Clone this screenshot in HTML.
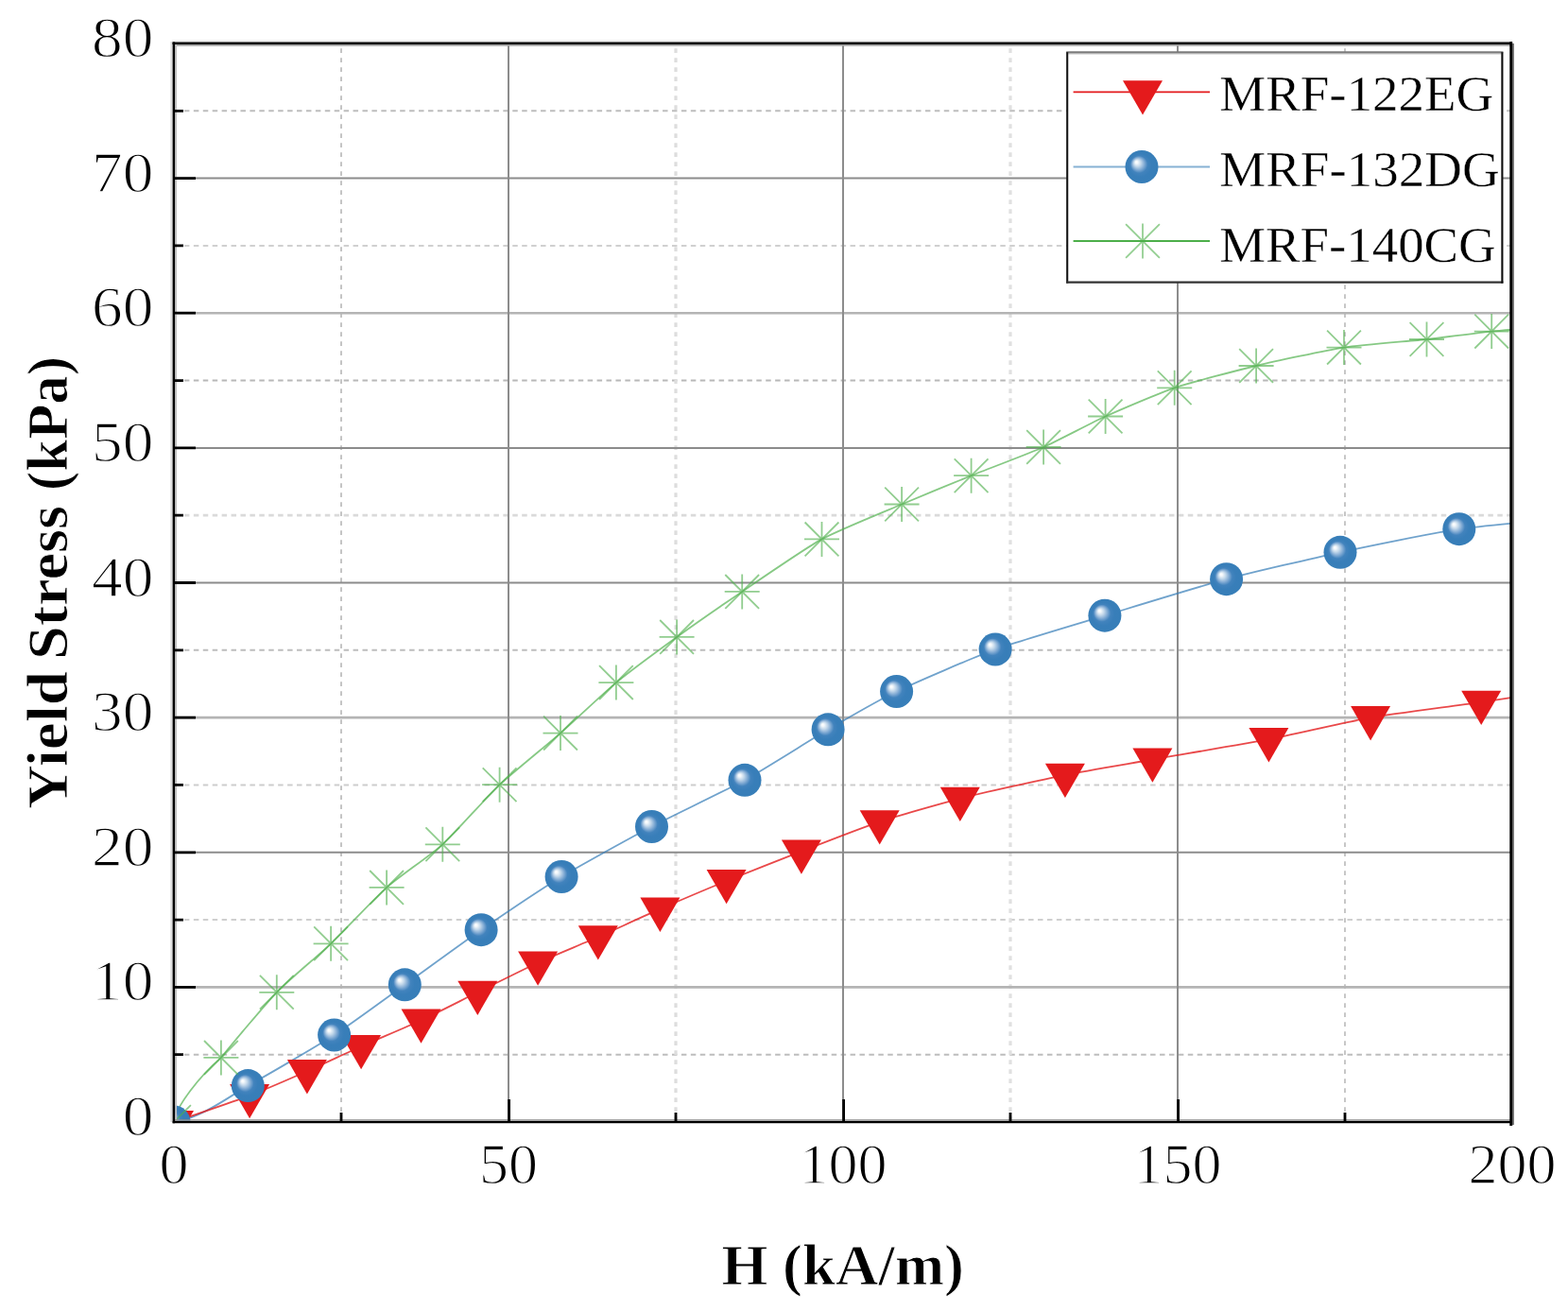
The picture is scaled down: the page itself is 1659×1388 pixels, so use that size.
<!DOCTYPE html>
<html><head><meta charset="utf-8"><title>Yield Stress vs H</title>
<style>html,body{margin:0;padding:0;background:#fff;}svg{display:block;}text{font-family:"Liberation Serif","DejaVu Serif",serif;}</style>
</head><body>
<svg width="1659" height="1388" viewBox="0 0 1659 1388">
<defs>
<radialGradient id="sph" cx="0.5" cy="0.5" r="0.5" fx="0.33" fy="0.35"><stop offset="0" stop-color="#ffffff"/><stop offset="0.08" stop-color="#f4f8fb"/><stop offset="0.22" stop-color="#c2d7ea"/><stop offset="0.38" stop-color="#7fa9d3"/><stop offset="0.52" stop-color="#4283bd"/><stop offset="0.7" stop-color="#387eb9"/><stop offset="1" stop-color="#377eb8"/></radialGradient>
<clipPath id="plot"><rect x="184.0" y="46.0" width="1416.0" height="1141.0"/></clipPath>
</defs>
<rect width="1659" height="1388" fill="#fff"/>
<line x1="184.0" y1="1115.7" x2="1600.0" y2="1115.7" stroke="#bdbdbd" stroke-width="2.0" stroke-dasharray="5.5 4.424" stroke-dashoffset="-1"/>
<line x1="184.0" y1="973.1" x2="1600.0" y2="973.1" stroke="#cfcfcf" stroke-width="2.0" stroke-dasharray="5.5 4.424" stroke-dashoffset="-1"/>
<line x1="184.0" y1="830.4" x2="1600.0" y2="830.4" stroke="#cdcdcd" stroke-width="2.0" stroke-dasharray="5.5 4.424" stroke-dashoffset="-1"/>
<line x1="184.0" y1="687.8" x2="1600.0" y2="687.8" stroke="#bdbdbd" stroke-width="2.0" stroke-dasharray="5.5 4.424" stroke-dashoffset="-1"/>
<line x1="184.0" y1="545.2" x2="1600.0" y2="545.2" stroke="#dadada" stroke-width="2.8" stroke-dasharray="5.5 4.424" stroke-dashoffset="-1"/>
<line x1="184.0" y1="402.6" x2="1600.0" y2="402.6" stroke="#b8b8b8" stroke-width="2.0" stroke-dasharray="5.5 4.424" stroke-dashoffset="-1"/>
<line x1="184.0" y1="259.9" x2="1600.0" y2="259.9" stroke="#d0d0d0" stroke-width="2.0" stroke-dasharray="5.5 4.424" stroke-dashoffset="-1"/>
<line x1="184.0" y1="117.3" x2="1600.0" y2="117.3" stroke="#bdbdbd" stroke-width="2.0" stroke-dasharray="5.5 4.424" stroke-dashoffset="-1"/>
<line x1="361.0" y1="46.0" x2="361.0" y2="1187.0" stroke="#c4c4c4" stroke-width="2.0" stroke-dasharray="4.6 5.4" stroke-dashoffset="-5.3"/>
<line x1="715.0" y1="46.0" x2="715.0" y2="1187.0" stroke="#dddddd" stroke-width="3.2" stroke-dasharray="4.6 5.4" stroke-dashoffset="-5.3"/>
<line x1="1069.0" y1="46.0" x2="1069.0" y2="1187.0" stroke="#e0e0e0" stroke-width="3.2" stroke-dasharray="4.6 5.4" stroke-dashoffset="-5.3"/>
<line x1="1423.0" y1="46.0" x2="1423.0" y2="1187.0" stroke="#b9b9b9" stroke-width="1.6" stroke-dasharray="4.6 5.4" stroke-dashoffset="-5.3"/>
<line x1="184.0" y1="1044.4" x2="1600.0" y2="1044.4" stroke="#b4b4b4" stroke-width="2.6"/>
<line x1="184.0" y1="901.8" x2="1600.0" y2="901.8" stroke="#8c8c8c" stroke-width="2.0"/>
<line x1="184.0" y1="759.1" x2="1600.0" y2="759.1" stroke="#b4b4b4" stroke-width="2.6"/>
<line x1="184.0" y1="616.5" x2="1600.0" y2="616.5" stroke="#8c8c8c" stroke-width="2.0"/>
<line x1="184.0" y1="473.9" x2="1600.0" y2="473.9" stroke="#8c8c8c" stroke-width="2.0"/>
<line x1="184.0" y1="331.2" x2="1600.0" y2="331.2" stroke="#b4b4b4" stroke-width="2.6"/>
<line x1="184.0" y1="188.6" x2="1600.0" y2="188.6" stroke="#8c8c8c" stroke-width="2.0"/>
<line x1="538.0" y1="46.0" x2="538.0" y2="1187.0" stroke="#8c8c8c" stroke-width="2"/>
<line x1="892.0" y1="46.0" x2="892.0" y2="1187.0" stroke="#8c8c8c" stroke-width="2"/>
<line x1="1246.0" y1="46.0" x2="1246.0" y2="1187.0" stroke="#8c8c8c" stroke-width="2"/>
<g clip-path="url(#plot)">
<path d="M184.0 1187.0 C186.0 1170.0 212.0 1138.0 233.9 1118.9 C244.8 1105.2 281.2 1061.9 292.8 1049.8 C304.4 1037.7 338.5 1009.4 350.1 998.3 C361.7 987.2 397.3 949.4 409.1 938.9 C420.9 928.4 456.4 904.2 468.3 893.3 C480.2 882.4 516.1 842.0 528.6 830.2 C541.1 818.4 580.7 786.4 593.0 775.6 C605.3 764.8 639.6 732.3 651.9 722.1 C664.2 711.9 702.8 683.5 716.1 673.9 C729.4 664.3 769.9 636.2 785.2 625.9 C800.5 615.5 852.6 579.6 869.5 570.4 C886.4 561.2 938.3 540.2 954.1 533.5 C969.9 526.8 1012.6 509.2 1027.6 503.2 C1042.6 497.1 1089.9 479.3 1104.1 473.0 C1118.3 466.7 1155.7 446.8 1169.6 440.5 C1183.5 434.2 1226.8 415.7 1242.7 410.3 C1258.7 404.9 1311.2 391.3 1329.1 387.0 C1347.0 382.7 1404.0 370.4 1422.0 367.6 C1440.0 364.8 1493.9 360.7 1509.5 359.0 C1525.1 357.3 1563.2 352.1 1578.2 350.6 C1593.2 349.1 1651.8 344.7 1660.0 344.0" fill="none" stroke="#4daf4a" stroke-width="1.8" stroke-opacity="0.68"/>
<path d="M184.0 1187.0 C212.0 1183.0 240.0 1162.0 262.3 1148.6 C279.3 1139.4 337.0 1105.7 353.6 1095.0 C370.2 1084.3 412.8 1052.9 428.3 1041.8 C443.9 1030.7 492.5 995.1 509.1 983.7 C525.7 972.3 576.1 938.4 594.1 927.5 C612.1 916.6 670.1 884.7 689.5 874.5 C708.9 864.3 769.3 835.6 788.0 825.3 C806.7 815.0 860.0 781.2 876.1 771.8 C892.2 762.4 930.9 740.0 948.6 731.5 C966.3 723.0 1031.1 695.0 1053.1 687.0 C1075.1 679.0 1144.5 658.6 1168.9 651.2 C1193.4 643.8 1272.7 619.4 1297.6 612.7 C1322.5 606.0 1393.4 589.6 1418.0 584.3 C1442.6 579.0 1518.6 563.4 1543.8 559.7 C1569.0 556.0 1657.4 548.3 1670.0 547.0" fill="none" stroke="#377eb8" stroke-width="1.8" stroke-opacity="0.72"/>
<path d="M184.0 1187.0 C192.0 1184.2 250.0 1164.4 264.1 1159.0 C278.2 1153.6 313.1 1138.4 324.9 1133.2 C336.7 1128.0 370.0 1112.4 382.1 1107.0 C394.2 1101.6 433.2 1085.2 445.5 1079.5 C457.8 1073.8 492.9 1055.9 505.3 1049.8 C517.7 1043.7 556.4 1024.3 569.1 1018.5 C581.9 1012.6 619.9 997.0 632.8 991.3 C645.7 985.6 684.8 967.6 698.4 961.7 C712.0 955.8 753.6 938.1 768.6 932.0 C783.6 925.9 831.7 906.9 847.9 900.6 C864.1 894.3 913.9 874.9 930.7 869.3 C947.5 863.7 996.2 849.8 1015.8 844.8 C1035.4 839.8 1106.5 823.9 1126.9 819.8 C1147.3 815.7 1197.9 807.3 1219.4 803.5 C1241.0 799.7 1319.3 786.6 1342.4 782.2 C1365.5 777.8 1427.6 763.1 1450.1 759.2 C1472.6 755.3 1544.2 746.1 1567.2 742.8 C1590.2 739.5 1668.7 727.7 1680.0 726.0" fill="none" stroke="#e41a1c" stroke-width="1.8" stroke-opacity="0.8"/>
<g fill="#e41a1c"><path d="M163.0 1174.9L205.0 1174.9L184.0 1211.2Z"/><path d="M243.1 1146.9L285.1 1146.9L264.1 1183.2Z"/><path d="M303.9 1121.1L345.9 1121.1L324.9 1157.4Z"/><path d="M361.1 1094.9L403.1 1094.9L382.1 1131.2Z"/><path d="M424.5 1067.4L466.5 1067.4L445.5 1103.7Z"/><path d="M484.3 1037.7L526.3 1037.7L505.3 1074.0Z"/><path d="M548.1 1006.4L590.1 1006.4L569.1 1042.7Z"/><path d="M611.8 979.2L653.8 979.2L632.8 1015.5Z"/><path d="M677.4 949.6L719.4 949.6L698.4 985.9Z"/><path d="M747.6 919.9L789.6 919.9L768.6 956.2Z"/><path d="M826.9 888.5L868.9 888.5L847.9 924.8Z"/><path d="M909.7 857.2L951.7 857.2L930.7 893.5Z"/><path d="M994.8 832.7L1036.8 832.7L1015.8 869.0Z"/><path d="M1105.9 807.7L1147.9 807.7L1126.9 844.0Z"/><path d="M1198.4 791.4L1240.4 791.4L1219.4 827.7Z"/><path d="M1321.4 770.1L1363.4 770.1L1342.4 806.4Z"/><path d="M1429.1 747.1L1471.1 747.1L1450.1 783.4Z"/><path d="M1546.2 730.7L1588.2 730.7L1567.2 767.0Z"/></g>
<g fill="url(#sph)"><circle cx="184.0" cy="1187.0" r="17.5"/><circle cx="262.3" cy="1148.6" r="17.5"/><circle cx="353.6" cy="1095.0" r="17.5"/><circle cx="428.3" cy="1041.8" r="17.5"/><circle cx="509.1" cy="983.7" r="17.5"/><circle cx="594.1" cy="927.5" r="17.5"/><circle cx="689.5" cy="874.5" r="17.5"/><circle cx="788.0" cy="825.3" r="17.5"/><circle cx="876.1" cy="771.8" r="17.5"/><circle cx="948.6" cy="731.5" r="17.5"/><circle cx="1053.1" cy="687.0" r="17.5"/><circle cx="1168.9" cy="651.2" r="17.5"/><circle cx="1297.6" cy="612.7" r="17.5"/><circle cx="1418.0" cy="584.3" r="17.5"/><circle cx="1543.8" cy="559.7" r="17.5"/></g>
<g stroke="#4daf4a" stroke-width="1.8" stroke-opacity="0.62" fill="none"><path d="M184.0 1168.5V1205.5M165.5 1187.0H202.5M166.1 1169.1L201.9 1204.9M166.1 1204.9L201.9 1169.1"/><path d="M233.9 1100.4V1137.4M215.4 1118.9H252.4M216.0 1101.0L251.8 1136.8M216.0 1136.8L251.8 1101.0"/><path d="M292.8 1031.3V1068.3M274.3 1049.8H311.3M274.9 1031.9L310.7 1067.7M274.9 1067.7L310.7 1031.9"/><path d="M350.1 979.8V1016.8M331.6 998.3H368.6M332.2 980.4L368.0 1016.2M332.2 1016.2L368.0 980.4"/><path d="M409.1 920.4V957.4M390.6 938.9H427.6M391.2 921.0L427.0 956.8M391.2 956.8L427.0 921.0"/><path d="M468.3 874.8V911.8M449.8 893.3H486.8M450.4 875.4L486.2 911.2M450.4 911.2L486.2 875.4"/><path d="M528.6 811.7V848.7M510.1 830.2H547.1M510.7 812.3L546.5 848.1M510.7 848.1L546.5 812.3"/><path d="M593.0 757.1V794.1M574.5 775.6H611.5M575.1 757.7L610.9 793.5M575.1 793.5L610.9 757.7"/><path d="M651.9 703.6V740.6M633.4 722.1H670.4M634.0 704.2L669.8 740.0M634.0 740.0L669.8 704.2"/><path d="M716.1 655.4V692.4M697.6 673.9H734.6M698.2 656.0L734.0 691.8M698.2 691.8L734.0 656.0"/><path d="M785.2 607.4V644.4M766.7 625.9H803.7M767.3 608.0L803.1 643.8M767.3 643.8L803.1 608.0"/><path d="M869.5 551.9V588.9M851.0 570.4H888.0M851.6 552.5L887.4 588.3M851.6 588.3L887.4 552.5"/><path d="M954.1 515.0V552.0M935.6 533.5H972.6M936.2 515.6L972.0 551.4M936.2 551.4L972.0 515.6"/><path d="M1027.6 484.7V521.7M1009.1 503.2H1046.1M1009.7 485.3L1045.5 521.1M1009.7 521.1L1045.5 485.3"/><path d="M1104.1 454.5V491.5M1085.6 473.0H1122.6M1086.2 455.1L1122.0 490.9M1086.2 490.9L1122.0 455.1"/><path d="M1169.6 422.0V459.0M1151.1 440.5H1188.1M1151.7 422.6L1187.5 458.4M1151.7 458.4L1187.5 422.6"/><path d="M1242.7 391.8V428.8M1224.2 410.3H1261.2M1224.8 392.4L1260.6 428.2M1224.8 428.2L1260.6 392.4"/><path d="M1329.1 368.5V405.5M1310.6 387.0H1347.6M1311.2 369.1L1347.0 404.9M1311.2 404.9L1347.0 369.1"/><path d="M1422.0 349.1V386.1M1403.5 367.6H1440.5M1404.1 349.7L1439.9 385.5M1404.1 385.5L1439.9 349.7"/><path d="M1509.5 340.5V377.5M1491.0 359.0H1528.0M1491.6 341.1L1527.4 376.9M1491.6 376.9L1527.4 341.1"/><path d="M1578.2 332.1V369.1M1559.7 350.6H1596.7M1560.3 332.7L1596.1 368.5M1560.3 368.5L1596.1 332.7"/></g>
</g>
<g fill="none"><line x1="184.0" y1="47.9" x2="1600.0" y2="47.9" stroke="#a2a2a2" stroke-width="1.7"/><line x1="186.1" y1="46.0" x2="186.1" y2="1187.0" stroke="#c4c4c4" stroke-width="1.9"/><line x1="181.3" y1="44.0" x2="181.3" y2="1187.0" stroke="#dedede" stroke-width="2"/><line x1="182.0" y1="43.2" x2="1600.0" y2="43.2" stroke="#efefef" stroke-width="2"/><line x1="184.0" y1="1185.0" x2="1600.0" y2="1185.0" stroke="#8e8e8e" stroke-width="1.7"/><line x1="1601.0" y1="46.0" x2="1601.0" y2="1190.0" stroke="#646464" stroke-width="1.7"/></g>
<g stroke="#000" fill="none" stroke-linecap="square"><line x1="183.85" y1="45.7" x2="183.85" y2="1187.05" stroke-width="2.5"/><line x1="1598.75" y1="45.7" x2="1598.75" y2="1189.5" stroke-width="2.9"/><line x1="183.85" y1="45.7" x2="1598.75" y2="45.7" stroke-width="2.6"/><line x1="183.85" y1="1187.05" x2="1598.75" y2="1187.05" stroke-width="2.3"/></g>
<path d="M184.0 1044.4H207.0M184.0 901.8H207.0M184.0 759.1H207.0M184.0 616.5H207.0M184.0 473.9H207.0M184.0 331.2H207.0M184.0 188.6H207.0M184.0 1115.7H194.0M184.0 973.1H194.0M184.0 830.4H194.0M184.0 687.8H194.0M184.0 545.2H194.0M184.0 402.6H194.0M184.0 259.9H194.0M184.0 117.3H194.0M538.6 1187.0V1163.0M892.6 1187.0V1163.0M1246.6 1187.0V1163.0M361.0 1187.0V1177.0M715.0 1187.0V1177.0M1069.0 1187.0V1177.0M1423.0 1187.0V1177.0" stroke="#000" stroke-width="2.8" fill="none"/>
<g font-size="62" fill="#000" stroke="#fff" stroke-width="1.3"><text transform="translate(162.5 1201.0) scale(1.055 1)" text-anchor="end">0</text><text transform="translate(162.5 1058.4) scale(1.055 1)" text-anchor="end">10</text><text transform="translate(162.5 915.8) scale(1.055 1)" text-anchor="end">20</text><text transform="translate(162.5 773.1) scale(1.055 1)" text-anchor="end">30</text><text transform="translate(162.5 630.5) scale(1.055 1)" text-anchor="end">40</text><text transform="translate(162.5 487.9) scale(1.055 1)" text-anchor="end">50</text><text transform="translate(162.5 345.2) scale(1.055 1)" text-anchor="end">60</text><text transform="translate(162.5 202.6) scale(1.055 1)" text-anchor="end">70</text><text transform="translate(162.5 60.0) scale(1.055 1)" text-anchor="end">80</text><text x="184.0" y="1251.8" text-anchor="middle">0</text><text x="538.0" y="1251.8" text-anchor="middle">50</text><text x="892.0" y="1251.8" text-anchor="middle">100</text><text x="1246.0" y="1251.8" text-anchor="middle">150</text><text x="1600.0" y="1251.8" text-anchor="middle">200</text></g>
<text x="763.5" y="1358.7" font-size="60.5" font-weight="bold" textLength="256.5" lengthAdjust="spacingAndGlyphs" stroke="#fff" stroke-width="0.9">H (kA/m)</text>
<g transform="translate(71 855.5) rotate(-90)" font-size="62" font-weight="bold" stroke="#fff" stroke-width="0.9"><text x="-0.5" y="0" textLength="146.0" lengthAdjust="spacingAndGlyphs">Yield</text><text x="157.4" y="0" textLength="163.1" lengthAdjust="spacingAndGlyphs">Stress</text><text x="336.6" y="0" textLength="141.9" lengthAdjust="spacingAndGlyphs">(kPa)</text></g>
<rect x="1129.2" y="55.2" width="460.2" height="243.4" fill="#fff"/>
<g fill="none" stroke-width="2.1"><line x1="1130.2" y1="56.75" x2="1588.4" y2="56.75" stroke="#c6c6c6" stroke-width="1.4"/><line x1="1128.2" y1="55.2" x2="1590.4" y2="55.2" stroke="#7c7c7c"/><line x1="1129.2" y1="55.2" x2="1129.2" y2="299.6" stroke="#161616"/><line x1="1128.2" y1="298.6" x2="1590.4" y2="298.6" stroke="#333"/><line x1="1589.4" y1="55.2" x2="1589.4" y2="299.6" stroke="#0c0c0c"/></g>
<path d="M1135.6 97.3H1280.0" stroke="#e41a1c" stroke-width="1.8"/>
<path d="M1135.6 176.5H1280.0" stroke="#377eb8" stroke-width="1.8" stroke-opacity="0.6"/>
<path d="M1135.6 255.0H1280.0" stroke="#4daf4a" stroke-width="1.8"/>
<g fill="#e41a1c"><path d="M1188.0 85.2L1230.0 85.2L1209.0 121.5Z"/></g>
<g fill="url(#sph)"><circle cx="1208.0" cy="176.5" r="17.5"/></g>
<g stroke="#4daf4a" stroke-width="1.8" stroke-opacity="0.6" fill="none"><path d="M1209.0 236.5V273.5M1190.5 255.0H1227.5M1191.1 237.1L1226.9 272.9M1191.1 272.9L1226.9 237.1"/></g>
<g font-size="53.5" fill="#000" stroke="#fff" stroke-width="0.4"><text x="1290.3" y="117.2" textLength="290" lengthAdjust="spacingAndGlyphs">MRF-122EG</text><text x="1290.3" y="196.9" textLength="296.3" lengthAdjust="spacingAndGlyphs">MRF-132DG</text><text x="1290.3" y="276.5" textLength="292.4" lengthAdjust="spacingAndGlyphs">MRF-140CG</text></g>
</svg>
</body></html>
